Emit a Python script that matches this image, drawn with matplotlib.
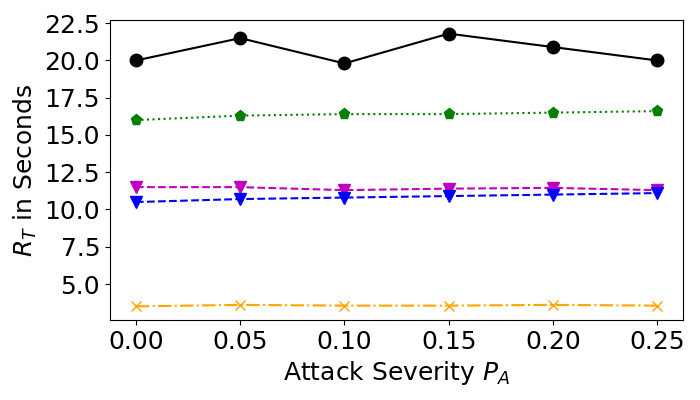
import matplotlib
matplotlib.use("Agg")
import matplotlib.pyplot as plt

severity = [0.00, 0.05, 0.10, 0.15, 0.20, 0.25]
black_vals = [20.0, 21.5, 19.8, 21.8, 20.9, 20.0]
green_vals = [16.0, 16.3, 16.4, 16.4, 16.5, 16.6]
magenta_vals = [11.5, 11.5, 11.3, 11.4, 11.45, 11.3]
blue_vals = [10.5, 10.7, 10.8, 10.9, 11.0, 11.1]
orange_vals = [3.5, 3.6, 3.55, 3.55, 3.6, 3.55]

plt.rcParams['font.size'] = 18
fig, ax = plt.subplots(figsize=(7, 4), dpi=100)
ax.plot(severity, black_vals, color='black', linestyle='-', marker='o', markersize=9)
ax.plot(severity, green_vals, color='green', linestyle=':', marker='p', markersize=8)
ax.plot(severity, magenta_vals, color='m', linestyle='--', marker='v', markersize=9)
ax.plot(severity, blue_vals, color='blue', linestyle='--', marker='v', markersize=9)
ax.plot(severity, orange_vals, color='orange', linestyle='-.', marker='x', markersize=7)

ax.set_xlabel('Attack Severity $P_A$')
ax.set_ylabel('$R_T$ in Seconds')
ax.set_xticks(severity)
ax.set_xticklabels([f'{v:.2f}' for v in severity])
ax.set_yticks([5.0, 7.5, 10.0, 12.5, 15.0, 17.5, 20.0, 22.5])
ax.set_yticklabels(['5.0', '7.5', '10.0', '12.5', '15.0', '17.5', '20.0', '22.5'])
fig.subplots_adjust(left=0.157, right=0.976, top=0.95, bottom=0.2)
fig.savefig('out.png')
